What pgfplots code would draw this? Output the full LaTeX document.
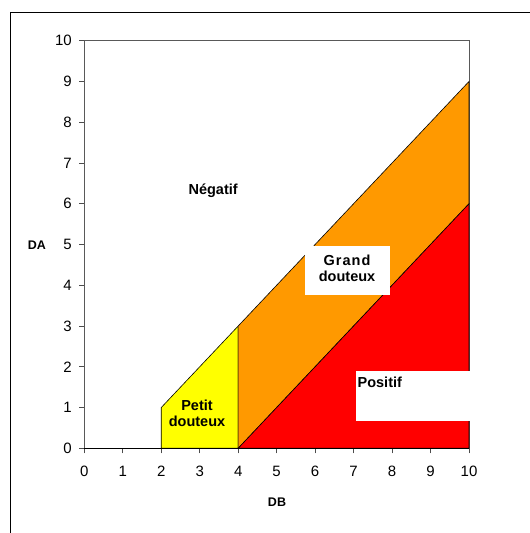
\documentclass[border=0pt]{standalone}
\usepackage{fontspec}
\setmainfont{Liberation Sans}
\usepackage{pgfplots}
\pgfplotsset{compat=1.18}
\definecolor{cyel}{HTML}{FFFF00}
\definecolor{corange}{HTML}{FF9900}
\definecolor{cred}{HTML}{FF0000}
\begin{document}
\begin{tikzpicture}[x=1pt,y=1pt]
\useasboundingbox (0,0) rectangle (530,533);
\draw[line width=1pt] (10.5,0) -- (10.5,520) -- (530,520);
\begin{axis}[at={(84.3pt,84.7pt)}, anchor=south west, scale only axis,
  width=384.7pt, height=407.6pt,
  xmin=0, xmax=10, ymin=0, ymax=10,
  xtick={0,...,10}, ytick={0,...,10},
  tick align=outside, xtick pos=bottom, ytick pos=left,
  major tick length=5pt,
  axis line style={black!65, line width=0.9pt},
  tick style={black!70, line width=0.7pt},
  ticklabel style={font=\fontsize{15}{18}\selectfont},
  yticklabel style={xshift=-4pt},
  xticklabel style={yshift=-9pt},
  /pgf/number format/assume math mode=true,
  clip=false]
\addplot[draw=black, line width=0.6pt, fill=cyel] coordinates {(2,0) (2,1) (4,3) (4,0)} -- cycle;
\addplot[draw=black, line width=0.6pt, fill=corange] coordinates {(4,0) (4,3) (10,9) (10,6)} -- cycle;
\addplot[draw=black, line width=0.6pt, fill=cred] coordinates {(4,0) (10,6) (10,0)} -- cycle;
\addplot[draw=none, fill=white] coordinates {(5.74,3.76) (5.74,4.96) (7.95,4.96) (7.95,3.76)} -- cycle;
\addplot[draw=none, fill=white] coordinates {(7.06,0.68) (7.06,1.9) (10.25,1.9) (10.25,0.68)} -- cycle;
\draw[black, line width=0.9pt] (axis cs:0,0) -- (axis cs:10,0);
\node[font=\bfseries\fontsize{14.5}{17}\selectfont] at (axis cs:3.35,6.32) {Négatif};
\node[font=\bfseries\fontsize{14.5}{17}\selectfont, align=center, inner sep=0pt] at (axis cs:6.83,4.42) {G\kern1pt r\kern1pt a\kern1pt n\kern1pt d\\[-1pt]douteux};
\node[font=\bfseries\fontsize{14.5}{17}\selectfont, align=center, inner sep=0pt] at (axis cs:2.93,0.85) {Petit\\[-1pt]douteux};
\node[font=\bfseries\fontsize{14.5}{17}\selectfont, anchor=west, inner sep=0pt] at (axis cs:7.1,1.61) {Positif};
\end{axis}
\node[font=\bfseries\fontsize{12.5}{15}\selectfont] at (37,288) {DA};
\node[font=\bfseries\fontsize{12.5}{15}\selectfont] at (277,31) {DB};
\end{tikzpicture}
\end{document}
